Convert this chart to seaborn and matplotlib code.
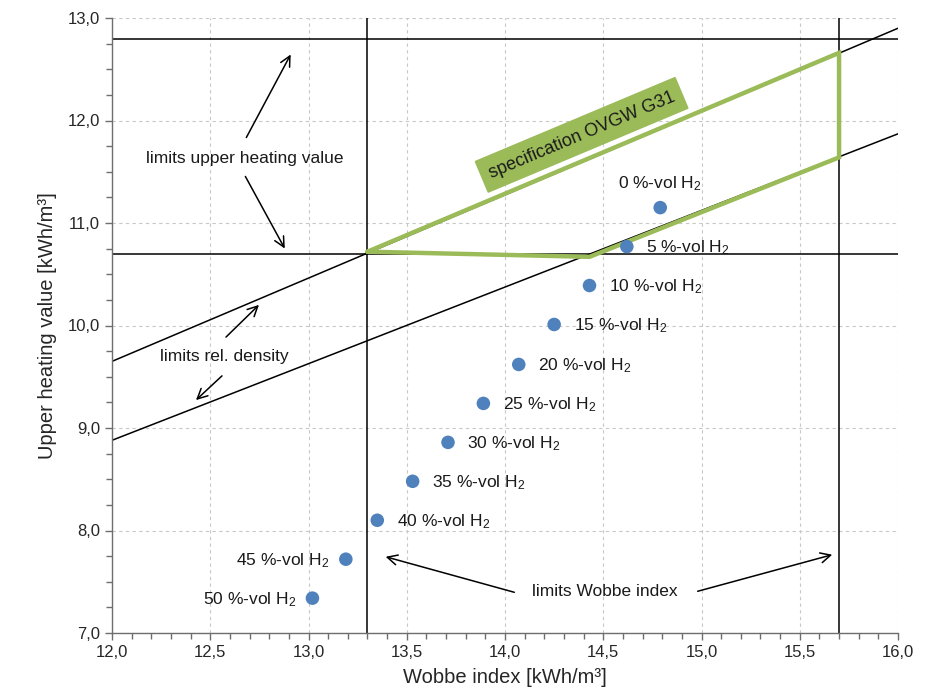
import numpy as np
import pandas as pd
import matplotlib
matplotlib.use("Agg")
import matplotlib.pyplot as plt
from matplotlib.ticker import MultipleLocator, FuncFormatter
import seaborn as sns

# ---- data ----
h2_share = [0, 5, 10, 15, 20, 25, 30, 35, 40, 45, 50]
wobbe = [14.79, 14.62, 14.43, 14.25, 14.07, 13.89, 13.71, 13.53, 13.35, 13.19, 13.02]
upper_hv = [11.15, 10.77, 10.39, 10.01, 9.62, 9.24, 8.86, 8.48, 8.10, 7.72, 7.34]

uhv_limits = [10.7, 12.8]
wobbe_limits = [13.3, 15.7]
density_x = [12.0, 16.0]
density_upper_y = [9.65, 12.90]
density_lower_y = [8.88, 11.87]
spec_x = [13.3, 15.7, 15.7, 14.43, 13.3]
spec_y = [10.72, 12.66, 11.64, 10.67, 10.72]

df = pd.DataFrame({"wobbe": wobbe, "uhv": upper_hv, "h2": h2_share})

sns.set_theme(style="white")
plt.rcParams["font.family"] = ["Liberation Sans", "DejaVu Sans"]
plt.rcParams["mathtext.fontset"] = "custom"
plt.rcParams["mathtext.rm"] = "Liberation Sans"
plt.rcParams["mathtext.it"] = "Liberation Sans"

fig = plt.figure(figsize=(9.52, 6.96), dpi=100)
ax = fig.add_axes([112 / 952, 1 - 633 / 696, (898 - 112) / 952, (633 - 18) / 696])

ax.set_xlim(12, 16)
ax.set_ylim(7, 13)

# grid
ax.xaxis.set_major_locator(MultipleLocator(0.5))
ax.xaxis.set_minor_locator(MultipleLocator(0.1))
ax.yaxis.set_major_locator(MultipleLocator(1.0))
ax.yaxis.set_minor_locator(MultipleLocator(0.25))
ax.grid(True, which="major", color="#c8c8c8", linestyle=(0, (3, 3)), linewidth=0.8)
ax.set_axisbelow(True)

fmt = FuncFormatter(lambda v, p: f"{v:.1f}".replace(".", ","))
ax.xaxis.set_major_formatter(fmt)
ax.yaxis.set_major_formatter(fmt)

for s in ["top", "right"]:
    ax.spines[s].set_visible(False)
for s in ["left", "bottom"]:
    ax.spines[s].set_color("#6e6e6e")
    ax.spines[s].set_linewidth(1.0)
ax.tick_params(which="both", direction="out", color="#6e6e6e", bottom=True, left=True)
ax.tick_params(which="major", length=5, width=1, labelsize=12, labelcolor="#262626")
ax.tick_params(which="minor", length=4, width=1)

# limit lines
for v in uhv_limits:
    ax.axhline(v, color="black", lw=1.1, zorder=2)
for v in wobbe_limits:
    ax.axvline(v, color="black", lw=1.1, zorder=2)
ax.plot(density_x, density_upper_y, color="black", lw=1.1, zorder=2)
ax.plot(density_x, density_lower_y, color="black", lw=1.1, zorder=2)

# specification polygon
ax.plot(spec_x, spec_y, color="#9BBB59", lw=3.2, solid_joinstyle="miter", zorder=3)
ax.text(14.39, 11.86, "specification OVGW G31", rotation=22.8, rotation_mode="anchor",
        ha="center", va="center", fontsize=13, color="#1a1a1a", zorder=4,
        bbox=dict(boxstyle="square,pad=0.45", fc="#9BBB59", ec="#9BBB59"))

# data points
sns.scatterplot(data=df, x="wobbe", y="uhv", ax=ax, s=95, color="#4F81BD",
                edgecolor="none", zorder=5, legend=False)

for xv, yv, h in zip(wobbe, upper_hv, h2_share):
    lab = f"{h} %-vol H$_2$"
    if h == 0:
        ax.annotate(lab, (xv, yv), xytext=(0, 17), textcoords="offset points",
                    ha="center", va="center", fontsize=12.5, color="#1a1a1a")
    elif h >= 45:
        ax.annotate(lab, (xv, yv), xytext=(-12, -1), textcoords="offset points",
                    ha="right", va="center", fontsize=12.5, color="#1a1a1a")
    else:
        ax.annotate(lab, (xv, yv), xytext=(14, -1), textcoords="offset points",
                    ha="left", va="center", fontsize=12.5, color="#1a1a1a")

# annotations
arrow = dict(arrowstyle="->", color="black", lw=1.1, mutation_scale=18)
ax.text(12.677, 11.634, "limits upper heating value", ha="center", va="center",
        fontsize=12.5, color="#1a1a1a")
ax.annotate("", xy=(12.916, 12.668), xytext=(12.677, 11.81), arrowprops=arrow)
ax.annotate("", xy=(12.886, 10.727), xytext=(12.672, 11.478), arrowprops=arrow)

ax.text(12.57, 9.693, "limits rel. density", ha="center", va="center",
        fontsize=12.5, color="#1a1a1a")
ax.annotate("", xy=(12.758, 10.22), xytext=(12.57, 9.868), arrowprops=arrow)
ax.annotate("", xy=(12.417, 9.254), xytext=(12.57, 9.527), arrowprops=arrow)

ax.text(14.509, 7.40, "limits Wobbe index", ha="center", va="center",
        fontsize=12.5, color="#1a1a1a")
ax.annotate("", xy=(13.379, 7.751), xytext=(14.061, 7.39), arrowprops=arrow)
ax.annotate("", xy=(15.679, 7.771), xytext=(14.967, 7.40), arrowprops=arrow)

ax.set_xlabel("Wobbe index [kWh/m³]", fontsize=14.5, color="#262626", labelpad=6)
ax.set_ylabel("Upper heating value [kWh/m³]", fontsize=14.5, color="#262626", labelpad=8)

fig.savefig("out.png", dpi=100)
